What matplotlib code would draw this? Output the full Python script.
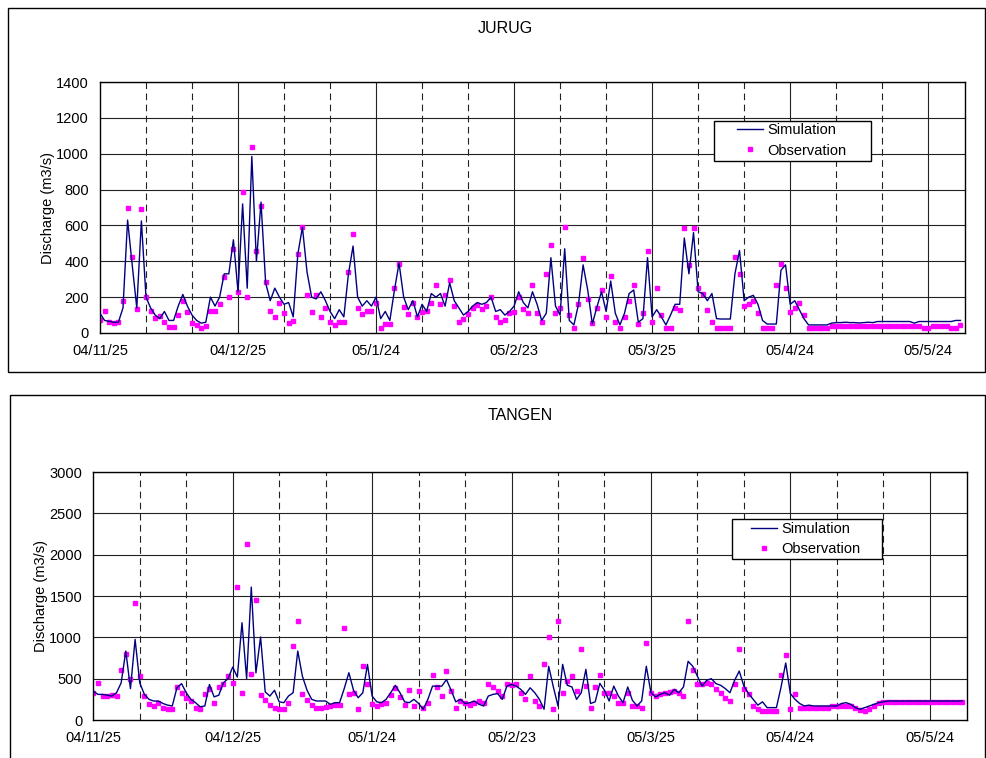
import matplotlib
matplotlib.use("Agg")
import matplotlib.pyplot as plt
from matplotlib.patches import Rectangle
import numpy as np

# daily discharge (m3/s), day 0 = 2004-11-25
JURUG_SIM = [
    110, 70, 65, 60, 60, 140, 630, 380, 140, 625,
    200, 140, 100, 80, 120, 70, 70, 150, 215, 150,
    100, 70, 55, 60, 200, 150, 200, 330, 330, 520,
    230, 720, 250, 985, 400, 730, 280, 180, 250, 200,
    160, 170, 90, 440, 590, 340, 200, 190, 230, 180,
    120, 80, 130, 90, 330, 485, 200, 150, 180, 150,
    200, 80, 120, 70, 240, 390, 200, 130, 180, 90,
    160, 120, 220, 200, 220, 150, 280, 180, 140, 100,
    120, 150, 170, 160, 170, 200, 120, 130, 100, 120,
    150, 230, 170, 140, 230, 160, 70, 110, 420, 150,
    100, 470, 70, 45, 160, 380, 240, 50, 145, 230,
    120, 290, 110, 45, 110, 220, 240, 60, 80, 420,
    90, 130, 90, 45, 100, 160, 160, 530, 330, 560,
    230, 220, 180, 220, 80, 78, 78, 78, 330, 460,
    180, 200, 210, 160, 70, 50, 50, 50, 350, 380,
    160, 180, 130, 80, 45, 45, 45, 45, 45, 55,
    58, 58, 60, 58, 58, 56, 58, 60, 58, 64,
    64, 64, 64, 64, 64, 64, 64, 55, 64, 64,
    64, 64, 64, 64, 64, 64, 70, 70,
]
JURUG_OBS = [
    70, 125, 60, 54, 60, 176, 700, 424, 135, 690,
    200, 125, 85, 95, 60, 32, 32, 100, 180, 115,
    55, 45, 30, 40, 125, 125, 160, 312, 200, 468,
    230, 785, 200, 1038, 460, 710, 284, 120, 88, 170,
    110, 55, 65, 440, 589, 210, 115, 210, 90, 140,
    60, 45, 60, 60, 340, 550, 140, 105, 125, 125,
    170, 30, 50, 50, 250, 387, 145, 105, 170, 88,
    115, 125, 170, 265, 160, 210, 297, 150, 60, 80,
    105, 140, 155, 135, 150, 200, 90, 60, 70, 110,
    115, 200, 135, 110, 265, 110, 60, 330, 490, 110,
    140, 590, 100, 28, 160, 420, 190, 55, 140, 240,
    90, 320, 60, 28, 90, 180, 270, 50, 110, 456,
    60, 250, 100, 28, 28, 140, 130, 587, 380, 587,
    250, 220, 130, 60, 28, 28, 28, 28, 424, 330,
    150, 160, 180, 110, 28, 28, 28, 265, 387, 250,
    115, 140, 170, 100, 28, 28, 28, 28, 28, 37,
    37, 37, 37, 37, 37, 37, 37, 37, 37, 37,
    37, 37, 37, 40, 40, 40, 40, 40, 40, 28,
    28, 41, 41, 41, 41, 28, 28, 45,
]
TANGEN_SIM = [
    350, 310, 310, 300, 290, 330, 450, 834, 380, 975,
    450, 310, 250, 230, 230, 200, 180, 170, 390, 440,
    330, 250, 210, 160, 170, 430, 280, 300, 450, 500,
    640, 520, 1177, 500, 1608, 570, 1004, 340, 290, 360,
    220, 210, 290, 330, 834, 530, 360, 250, 230, 230,
    230, 190, 210, 210, 380, 572, 360, 270, 330, 673,
    290, 220, 210, 250, 330, 420, 330, 220, 210, 250,
    200, 130, 250, 410, 410, 410, 490, 360, 220, 250,
    200, 210, 230, 190, 170, 290, 310, 320, 250, 410,
    430, 410, 370, 310, 390, 330, 250, 130, 650, 400,
    170, 673, 420, 400, 250, 330, 613, 200, 220, 443,
    360, 230, 410, 290, 210, 400, 240, 170, 230, 650,
    330, 280, 310, 330, 300, 370, 330, 400, 710, 650,
    530, 410, 480, 500, 440, 420, 380, 330, 480, 592,
    410, 320, 250, 180, 220, 150, 150, 150, 400, 690,
    320, 250, 200, 170, 180, 170, 170, 170, 170, 170,
    170, 200, 210, 190, 150, 130, 150, 170, 190, 210,
    220, 230, 230, 230, 230, 230, 230, 230, 230, 230,
    230, 230, 230, 230, 230, 230, 230, 230,
]
TANGEN_OBS = [
    330, 443, 290, 290, 300, 290, 605, 794, 500, 1410,
    530, 290, 190, 170, 210, 150, 135, 130, 400, 330,
    270, 230, 150, 130, 310, 370, 210, 400, 430, 530,
    450, 1612, 330, 2124, 560, 1450, 300, 240, 180, 150,
    130, 130, 210, 895, 1197, 310, 240, 180, 150, 150,
    160, 170, 180, 180, 1116, 310, 330, 130, 653, 430,
    190, 170, 190, 210, 300, 390, 280, 180, 360, 170,
    350, 140, 200, 540, 400, 290, 592, 350, 150, 230,
    210, 180, 210, 230, 210, 430, 400, 350, 290, 430,
    420, 430, 330, 250, 530, 230, 170, 681, 1003, 130,
    1197, 330, 470, 530, 350, 862, 410, 150, 400, 540,
    330, 330, 290, 210, 210, 330, 170, 170, 150, 927,
    330, 290, 310, 330, 340, 350, 330, 290, 1197, 600,
    440, 430, 450, 440, 380, 330, 270, 230, 440, 862,
    370, 320, 170, 130, 115, 110, 110, 110, 540, 786,
    130, 310, 150, 150, 150, 150, 150, 150, 150, 170,
    170, 170, 170, 170, 140, 120, 110, 130, 170, 200,
    218, 218, 218, 218, 218, 218, 218, 218, 218, 218,
    218, 218, 218, 218, 218, 218, 218, 218,
]

DATE_LABELS = ["04/11/25", "04/12/25", "05/1/24", "05/2/23",
               "05/3/25", "05/4/24", "05/5/24"]

SIM_COLOR = "#000080"
OBS_COLOR = "#ff00ff"

plt.rcParams.update({
    "font.family": ["Liberation Sans", "DejaVu Sans"],
    "font.size": 10.5,
})


def draw_panel(fig, rect, title, title_xy, sim, obs, ymax, ystep,
               leg_box, leg_anchor):
    ax = fig.add_axes(rect)
    days = np.arange(len(sim))
    ax.set_xlim(0, 188)
    ax.set_ylim(0, ymax)

    yt = np.arange(0, ymax + 1, ystep)
    ax.set_yticks(yt)
    ax.set_yticklabels([str(v) for v in yt])
    ax.set_xticks(np.arange(0, 181, 30))
    ax.set_xticklabels(DATE_LABELS)
    ax.tick_params(length=0, pad=8, labelsize=10.5)

    for v in yt[1:]:
        ax.axhline(v, color="#222222", lw=0.8, zorder=1)
    for d in np.arange(10, 188, 10):
        if d % 30 == 0:
            ax.axvline(d, color="#222222", lw=0.8, zorder=1)
        else:
            ax.axvline(d, color="#222222", lw=0.8, ls=(0, (6, 4)), zorder=1)

    ax.plot(days, sim, color=SIM_COLOR, lw=1.0, zorder=3, label="Simulation")
    ax.plot(days, obs, ls="none", marker="s", ms=3.0, mec=OBS_COLOR,
            mfc=OBS_COLOR, zorder=2, label="Observation")

    for s in ax.spines.values():
        s.set_color("black")
        s.set_linewidth(1.0)
    ax.set_ylabel("Discharge (m3/s)", fontsize=10.5, labelpad=1)

    # legend box drawn separately so it gets the wide side padding
    x0, y0, x1, y1 = leg_box
    ax.add_patch(Rectangle((x0, y0), x1 - x0, y1 - y0, transform=ax.transAxes,
                           facecolor="white", edgecolor="black", lw=1.0,
                           zorder=4))
    leg = ax.legend(loc="upper left", bbox_to_anchor=leg_anchor,
                    frameon=False, borderpad=0, borderaxespad=0,
                    labelspacing=0.42, handlelength=1.75, handletextpad=0.3,
                    fontsize=10.5)
    leg.set_zorder(5)

    fig.text(title_xy[0], title_xy[1], title, ha="center", va="center",
             fontsize=11.5)
    return ax


fig = plt.figure(figsize=(9.87, 7.58), dpi=100, facecolor="white")

# outer frames around each chart
fig.add_artist(Rectangle((0.0081, 0.509), 0.9899, 0.481,
                         transform=fig.transFigure, fill=False,
                         edgecolor="black", lw=1.0))
fig.add_artist(Rectangle((0.0101, -0.02), 0.9879, 0.499,
                         transform=fig.transFigure, fill=False,
                         edgecolor="black", lw=1.0))

draw_panel(fig, [0.1013, 0.5607, 0.8764, 0.3311], "JURUG", (0.512, 0.963),
           JURUG_SIM, JURUG_OBS, 1400, 200,
           (0.7098, 0.6853, 0.8913, 0.8446), (0.737, 0.835))
draw_panel(fig, [0.0945, 0.0501, 0.8852, 0.3272], "TANGEN", (0.527, 0.4525),
           TANGEN_SIM, TANGEN_OBS, 3000, 500,
           (0.7305, 0.648, 0.9023, 0.8117), (0.753, 0.798))

fig.savefig("out.png", dpi=100, facecolor="white")
